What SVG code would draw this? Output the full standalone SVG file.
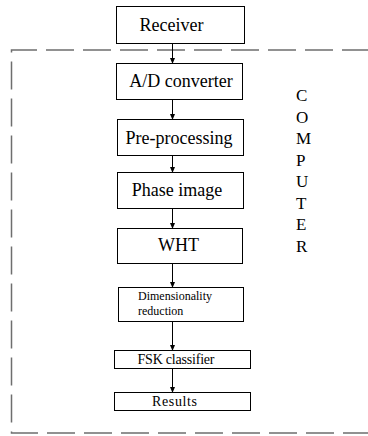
<svg xmlns="http://www.w3.org/2000/svg" width="368" height="436" viewBox="0 0 368 436">
<defs>
<marker id="ah" markerWidth="6" markerHeight="8" refX="5" refY="3" orient="auto" markerUnits="userSpaceOnUse">
<path d="M0,0.5 L6,3 L0,5.5 Z" fill="#000"/>
</marker>
<style>
.box{fill:#fff;stroke:#000;stroke-width:1}
.t{font-family:'Liberation Serif','Times New Roman',serif;fill:#000}
.big{font-size:18px;text-anchor:middle}
.small{font-size:12px}
.mid{font-size:14px;text-anchor:middle}
.v{font-size:17px}
.conn line{stroke:#000;stroke-width:1;marker-end:url(#ah)}
.frame{fill:none;stroke:#6e6e6e;stroke-width:1.5;stroke-dasharray:28 9}
</style>
</defs>
<rect width="368" height="436" fill="#fff"/>
<path class="frame" d="M370,50 H11.5 V433 H370"/>
<g id="receiver"><rect class="box" x="116.5" y="6.5" width="128" height="37"/><text class="t big" x="171.5" y="31">Receiver</text></g>
<g id="ad"><rect class="box" x="116.5" y="63.5" width="126" height="36"/><text class="t big" x="181" y="87">A/D converter</text></g>
<g id="pre"><rect class="box" x="117.5" y="119.5" width="126" height="36"/><text class="t big" x="179" y="143.5">Pre-processing</text></g>
<g id="phase"><rect class="box" x="117.5" y="172.5" width="126" height="36"/><text class="t big" x="177" y="196">Phase image</text></g>
<g id="wht"><rect class="box" x="117.5" y="228.5" width="125" height="35"/><text class="t big" x="178.5" y="251">WHT</text></g>
<g id="dim"><rect class="box" x="118.5" y="287.5" width="125" height="34"/><text class="t small" x="138" y="300">Dimensionality</text><text class="t small" x="138" y="315">reduction</text></g>
<g id="fsk"><rect class="box" x="114.5" y="350.5" width="136" height="18"/><text class="t mid" x="176" y="364" textLength="77">FSK classifier</text></g>
<g id="results"><rect class="box" x="114.5" y="392.5" width="136" height="18"/><text class="t mid" x="174.5" y="406" textLength="45">Results</text></g>
<g id="computer" class="t v">
<text x="296" y="101">C</text>
<text x="296" y="122.5">O</text>
<text x="296" y="144">M</text>
<text x="296" y="165.5">P</text>
<text x="296" y="187">U</text>
<text x="296" y="208.5">T</text>
<text x="296" y="230">E</text>
<text x="296" y="251.5">R</text>
</g>
<g id="connectors" class="conn">
<line x1="172.5" y1="43.5" x2="172.5" y2="63"/>
<line x1="172.5" y1="99.5" x2="172.5" y2="119"/>
<line x1="172.5" y1="155.5" x2="172.5" y2="172"/>
<line x1="172.5" y1="208.5" x2="172.5" y2="228"/>
<line x1="172.5" y1="263.5" x2="172.5" y2="287"/>
<line x1="172.5" y1="321.5" x2="172.5" y2="350"/>
<line x1="172.5" y1="368.5" x2="172.5" y2="392"/>
</g>
</svg>
